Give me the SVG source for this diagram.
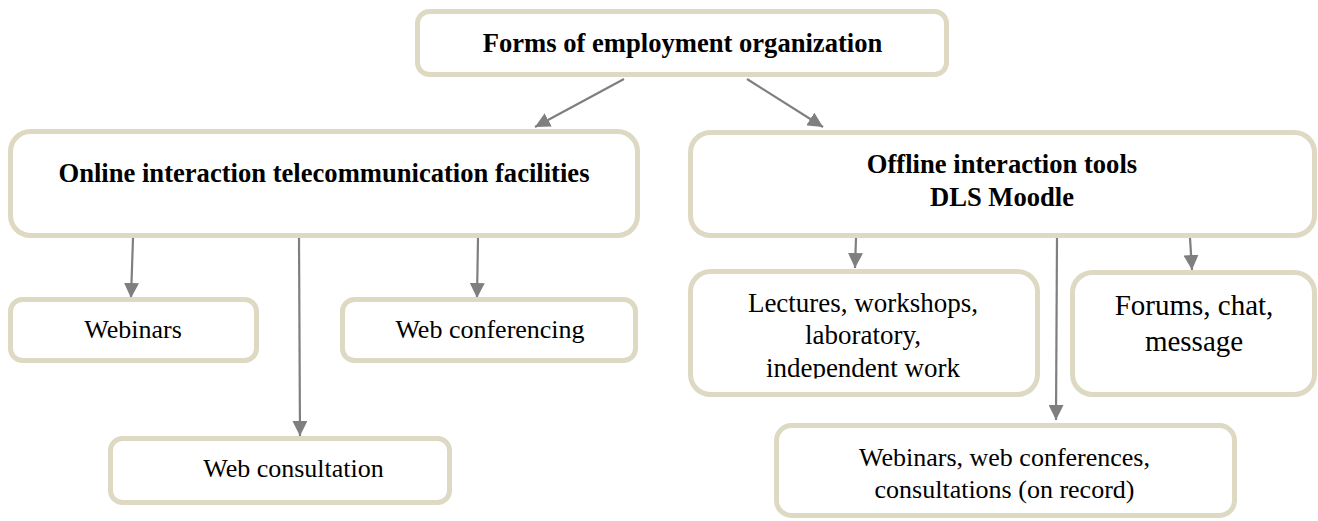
<svg xmlns="http://www.w3.org/2000/svg" width="1318" height="521" viewBox="0 0 1318 521">
<defs>
<style>
.box{fill:#ffffff;stroke:#DDD9C3;stroke-width:5}
.b{font-family:"Liberation Serif","Times New Roman",serif;font-weight:bold;font-size:26.6px;fill:#000;text-anchor:middle}
.t{font-family:"Liberation Serif","Times New Roman",serif;font-size:26px;fill:#000;text-anchor:middle}
.t29{font-family:"Liberation Serif","Times New Roman",serif;font-size:29px;fill:#000;text-anchor:middle}
.c{stroke:#7F7F7F;stroke-width:2.2;fill:none;marker-end:url(#ah)}
</style>
<marker id="ah" markerUnits="userSpaceOnUse" markerWidth="16" markerHeight="15" refX="15" refY="7.5" orient="auto">
<path d="M0,0 L15,7.5 L0,15 z" fill="#7F7F7F"/>
</marker>
<clipPath id="clipLect"><rect x="688" y="269" width="352" height="109.5"/></clipPath>
</defs>
<g id="connectors">
<line class="c" x1="624" y1="79" x2="535" y2="127"/>
<line class="c" x1="747" y1="79" x2="823" y2="127"/>
<line class="c" x1="133" y1="238" x2="131" y2="298"/>
<line class="c" x1="299" y1="238" x2="300" y2="436"/>
<line class="c" x1="478" y1="238" x2="477" y2="298"/>
<line class="c" x1="856" y1="238" x2="855" y2="268"/>
<line class="c" x1="1057" y1="236" x2="1056" y2="420"/>
<line class="c" x1="1190" y1="238" x2="1192" y2="270"/>
</g>
<g id="node-forms">
<rect class="box" x="417.5" y="11.5" width="529" height="63" rx="12"/>
<text class="b" x="682.5" y="52">Forms of employment organization</text>
</g>
<g id="node-online">
<rect class="box" x="10.5" y="131.5" width="627" height="104" rx="20"/>
<text class="b" x="324" y="182">Online interaction telecommunication facilities</text>
</g>
<g id="node-offline">
<rect class="box" x="690.5" y="132.5" width="624" height="103" rx="20"/>
<text class="b" x="1002" y="173">Offline interaction tools</text>
<text class="b" x="1002" y="206">DLS Moodle</text>
</g>
<g id="node-webinars">
<rect class="box" x="10.5" y="299.5" width="246" height="61" rx="12"/>
<text class="t" x="133" y="338">Webinars</text>
</g>
<g id="node-webconf">
<rect class="box" x="342.5" y="299.5" width="293" height="61" rx="12"/>
<text class="t" x="490" y="338">Web conferencing</text>
</g>
<g id="node-webconsult">
<rect class="box" x="110.5" y="438.5" width="339" height="64" rx="12"/>
<text class="t" x="293.5" y="477">Web consultation</text>
</g>
<g id="node-lectures">
<rect class="box" x="690.5" y="271.5" width="347" height="123" rx="20"/>
<g clip-path="url(#clipLect)">
<text class="t" x="863" y="312" style="font-size:27px">Lectures, workshops,</text>
<text class="t" x="863" y="344" style="font-size:27px">laboratory,</text>
<text class="t" x="863" y="377" style="font-size:27px">independent work</text>
</g>
</g>
<g id="node-forums">
<rect class="box" x="1072.5" y="272.5" width="242" height="122" rx="20"/>
<text class="t29" x="1194" y="315">Forums, chat,</text>
<text class="t29" x="1194" y="351">message</text>
</g>
<g id="node-recorded">
<rect class="box" x="776.5" y="425.5" width="458" height="90" rx="15"/>
<text class="t" x="1004.5" y="466">Webinars, web conferences,</text>
<text class="t" x="1004.5" y="498">consultations (on record)</text>
</g>
</svg>
